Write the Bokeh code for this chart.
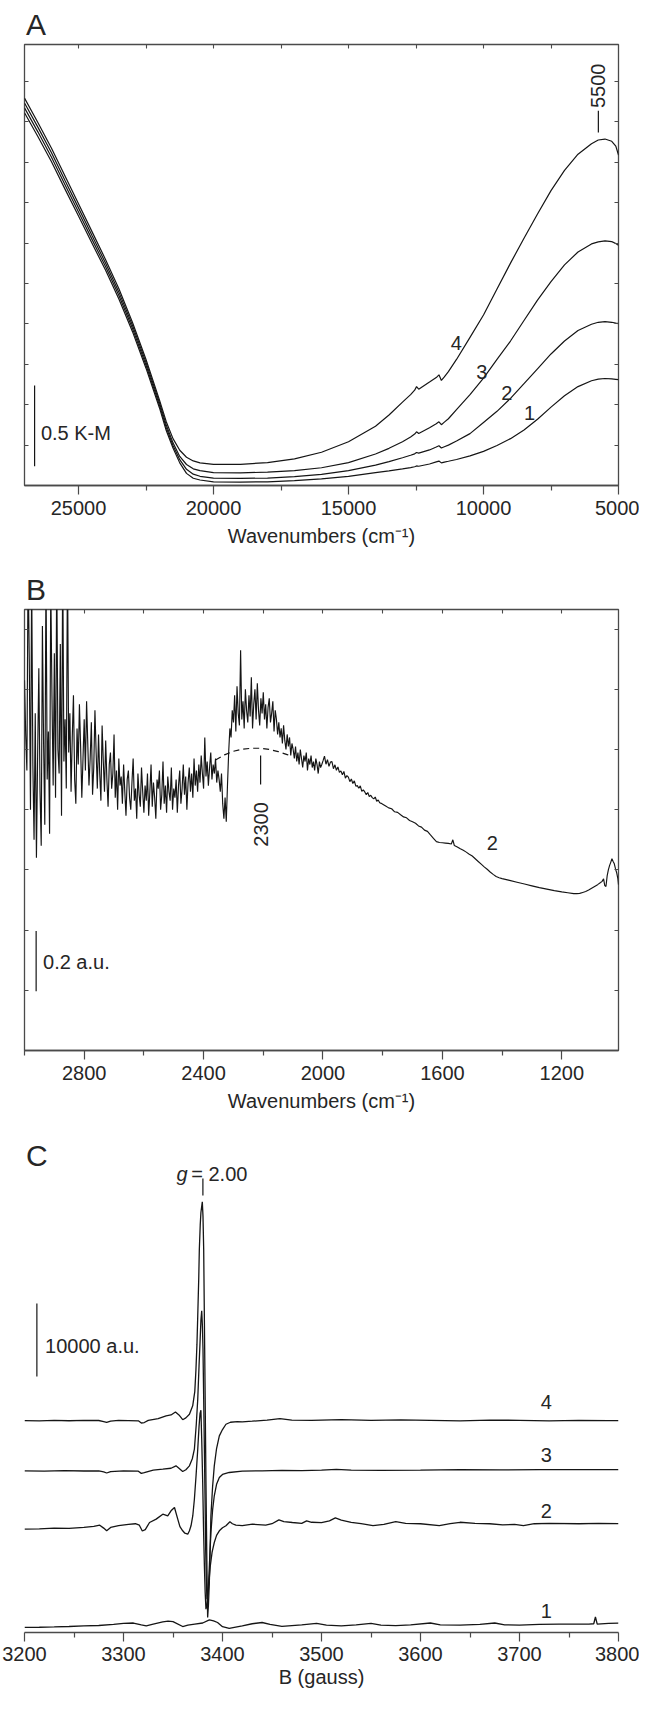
from math import pi
from bokeh.plotting import figure
from bokeh.models import Range1d, FixedTicker, LinearAxis, Label, Title, CustomJSTickFormatter
from bokeh.layouts import column
from bokeh.embed import file_html
from bokeh.resources import INLINE

# ---------------------------------------------------------------- data
# Panel A : DR UV-Vis-NIR (K-M units, arbitrary zero), wavenumbers in cm-1
A_WN = [27000, 26500, 26000, 25500, 25000, 24500, 24000, 23500, 23000, 22500,
        22000, 21750, 21500, 21250, 21000, 20750, 20500, 20000, 19000, 18000,
        17000, 16000, 15000, 14000, 13500, 13000, 12700, 12550, 12480, 12400,
        12000, 11750, 11650, 11560, 11450, 11300, 11000, 10500, 10000, 9500,
        9000, 8500, 8000, 7500, 7000, 6500, 6000, 5750, 5500, 5250,
        5100, 5000]
A_KM_4 = [2.397, 2.245, 2.087, 1.915, 1.743, 1.571, 1.399, 1.216, 1.009, 0.780,
          0.528, 0.395, 0.290, 0.218, 0.175, 0.152, 0.140, 0.131, 0.131, 0.142,
          0.165, 0.206, 0.271, 0.367, 0.436, 0.516, 0.562, 0.590, 0.612, 0.596,
          0.640, 0.668, 0.685, 0.650, 0.672, 0.705, 0.780, 0.917, 1.055, 1.216,
          1.376, 1.530, 1.680, 1.825, 1.950, 2.050, 2.115, 2.138, 2.144, 2.130,
          2.100, 2.045]
A_KM_3 = [2.367, 2.216, 2.059, 1.888, 1.718, 1.547, 1.377, 1.195, 0.990, 0.762,
          0.512, 0.375, 0.264, 0.180, 0.130, 0.103, 0.092, 0.080, 0.078, 0.083,
          0.092, 0.110, 0.142, 0.195, 0.230, 0.271, 0.300, 0.318, 0.332, 0.322,
          0.357, 0.382, 0.394, 0.376, 0.392, 0.413, 0.470, 0.562, 0.665, 0.780,
          0.894, 1.021, 1.147, 1.261, 1.365, 1.445, 1.495, 1.508, 1.514, 1.509,
          1.498, 1.486]
A_KM_2 = [2.337, 2.187, 2.031, 1.861, 1.693, 1.523, 1.355, 1.174, 0.971, 0.744,
          0.496, 0.358, 0.248, 0.160, 0.100, 0.070, 0.057, 0.046, 0.044, 0.046,
          0.055, 0.069, 0.092, 0.126, 0.148, 0.172, 0.187, 0.196, 0.204, 0.200,
          0.220, 0.238, 0.246, 0.232, 0.240, 0.250, 0.275, 0.321, 0.390, 0.459,
          0.539, 0.631, 0.722, 0.814, 0.894, 0.959, 0.998, 1.010, 1.014, 1.010,
          1.005, 1.002]
A_KM_1 = [2.307, 2.158, 2.003, 1.834, 1.668, 1.499, 1.333, 1.153, 0.952, 0.726,
          0.480, 0.340, 0.232, 0.140, 0.075, 0.045, 0.034, 0.023, 0.021, 0.023,
          0.030, 0.041, 0.057, 0.080, 0.091, 0.103, 0.111, 0.116, 0.121, 0.119,
          0.133, 0.146, 0.151, 0.140, 0.145, 0.150, 0.161, 0.183, 0.211, 0.248,
          0.290, 0.344, 0.410, 0.485, 0.555, 0.612, 0.648, 0.658, 0.662, 0.660,
          0.657, 0.655]
A_XTICKS = [25000, 20000, 15000, 10000, 5000]
A_XMINOR = [22500, 17500, 12500, 7500]
A_TOPTICKS = [25000, 22500, 20000, 17500, 15000, 12500, 10000, 7500]
A_YTICKS = [0.25, 0.5, 0.75, 1.0, 1.25, 1.5, 1.75, 2.0, 2.25, 2.5]

# Panel B : spectrum of sample 2 (a.u.), wavenumbers in cm-1
B_WN_NOISY = list(range(3000, 2000, -4))
B_VAL_NOISY = [
    1.23, 1.05, 0.93, 1.62, 1.30, 0.80, 1.58, 0.95, 0.70, 1.12,
    0.64, 0.98, 1.27, 0.86, 0.68, 1.41, 1.02, 0.75, 1.60, 0.90,
    1.06, 0.72, 1.55, 1.18, 0.88,
    1.32, 0.84, 1.61, 1.00, 0.92, 1.35, 0.78, 1.64, 0.96, 1.10, 0.87, 1.63,
    0.99, 1.12, 0.86, 1.04, 1.18, 0.90, 0.82, 1.07, 0.95, 1.15, 1.01, 0.84, 0.97, 1.10,
    0.93, 1.16, 1.02, 0.88, 0.97, 1.09, 0.85, 0.94, 1.13, 0.99, 0.87, 1.05, 0.92, 0.83, 1.08,
    0.96, 0.86, 1.03, 0.90, 0.81, 0.95, 0.99, 0.87, 0.92, 1.05, 0.84, 0.93, 0.80, 0.97, 0.88,
    0.91, 0.82, 0.95, 0.86, 0.78, 0.90, 0.93, 0.84, 0.80, 0.89,
    0.97, 0.83, 0.87, 0.77, 0.92, 0.85, 0.81, 0.94, 0.86, 0.79,
    0.88, 0.83, 0.92, 0.78, 0.86, 0.95, 0.81, 0.89, 0.84, 0.77,
    0.90, 0.87, 0.93, 0.80, 0.85, 0.96, 0.82, 0.88, 0.79, 0.91,
    0.86, 0.83, 0.94, 0.80, 0.87,
    0.84, 0.90, 0.79, 0.88, 0.93, 0.82, 0.87, 0.95, 0.85, 0.91,
    0.80, 0.89, 0.94, 0.86, 0.92, 0.84, 0.97, 0.88, 0.93, 0.86,
    0.95, 0.89, 0.98, 0.92, 0.87, 1.04, 0.91, 0.96, 0.88, 0.94,
    0.99, 0.90, 0.95, 0.92, 0.97, 0.89, 0.93,
    0.90, 0.86, 0.92, 0.82, 0.77, 0.84, 0.76, 0.88, 0.99, 1.07,
    1.04, 1.13, 1.09, 1.18, 1.06, 1.21, 1.12, 1.08, 1.33, 1.10, 1.16, 1.07, 1.20, 1.13,
    1.09, 1.18, 1.11, 1.24, 1.07, 1.15, 1.20, 1.10, 1.22, 1.13, 1.08, 1.17, 1.12, 1.19,
    1.10, 1.15, 1.07, 1.14, 1.17, 1.09, 1.12, 1.16, 1.06, 1.13, 1.10, 1.05,
    1.09, 1.04, 1.07, 1.02, 1.08, 1.03, 1.00, 1.05, 1.01, 1.04, 0.98, 1.02, 1.00,
    0.97, 1.01, 0.96, 0.99, 0.95, 1.00, 0.97, 0.94, 0.98, 0.96,
    0.99, 0.93, 0.97, 0.95, 0.98, 0.94, 0.96, 0.93, 0.97, 0.95,
    0.92, 0.96, 0.94, 0.95]
B_WN_TAIL = [2000, 1995, 1990, 1985, 1980, 1975, 1970, 1965, 1960, 1955,
             1950, 1945, 1940, 1935, 1930, 1925, 1920, 1915, 1910, 1905,
             1900, 1895, 1890, 1885, 1880, 1875, 1870, 1865, 1860, 1855,
             1850, 1845, 1840, 1835, 1830, 1825, 1820, 1815, 1810, 1805,
             1800, 1790, 1780, 1770, 1760, 1750, 1740, 1730, 1720, 1710,
             1700, 1690, 1680, 1670, 1660, 1650, 1640, 1630, 1620, 1610,
             1600, 1590, 1580, 1570, 1565, 1560, 1550, 1540, 1530, 1520,
             1510, 1500, 1490, 1480, 1470, 1460, 1450, 1440, 1430, 1420,
             1410, 1400, 1375, 1350, 1325, 1300, 1275, 1250, 1225, 1200,
             1180, 1160, 1150, 1140, 1130, 1120, 1110, 1100, 1090, 1080,
             1070, 1065, 1060, 1056, 1052, 1048, 1044, 1040, 1036, 1032,
             1028, 1024, 1020, 1016, 1012, 1010]
B_VAL_TAIL = [0.962, 0.978, 0.951, 0.966, 0.944, 0.958, 0.960, 0.936, 0.949, 0.931,
              0.942, 0.924, 0.929, 0.916, 0.927, 0.905, 0.913, 0.908, 0.893, 0.902,
              0.887, 0.896, 0.878, 0.880, 0.871, 0.879, 0.861, 0.866, 0.859, 0.850,
              0.857, 0.844, 0.848, 0.840, 0.836, 0.842, 0.828, 0.832, 0.823, 0.821,
              0.818, 0.812, 0.806, 0.803, 0.793, 0.791, 0.783, 0.776, 0.773, 0.764,
              0.760, 0.755, 0.746, 0.742, 0.732, 0.728, 0.716, 0.705, 0.694, 0.691,
              0.690, 0.689, 0.688, 0.686, 0.700, 0.681, 0.676, 0.670, 0.665, 0.659,
              0.652, 0.646, 0.637, 0.628, 0.619, 0.610, 0.602, 0.593, 0.585, 0.578,
              0.574, 0.571, 0.565, 0.559, 0.553, 0.547, 0.541, 0.536, 0.531, 0.527,
              0.524, 0.521, 0.521, 0.522, 0.525, 0.528, 0.533, 0.539, 0.545, 0.551,
              0.558, 0.562, 0.570, 0.548, 0.545, 0.580, 0.600, 0.614, 0.625, 0.637,
              0.628, 0.620, 0.603, 0.590, 0.570, 0.551]
B_DASH_WN = [2360, 2330, 2300, 2270, 2240, 2210, 2180, 2150, 2120, 2110]
B_DASH_VAL = [0.965, 0.982, 0.994, 1.001, 1.004, 1.004, 1.000, 0.993, 0.983, 0.979]
B_XTICKS = [2800, 2400, 2000, 1600, 1200]
B_XMINOR = [3000, 2600, 2200, 1800, 1400]
B_TOPTICKS = [2800, 2600, 2400, 2200, 2000, 1800, 1600, 1400, 1200]
B_YTICKS = [0.2, 0.4, 0.6, 0.8, 1.0, 1.2, 1.4]

# Panel C : EPR spectra (a.u., stacked as drawn), field in gauss
C4_G = [3200, 3215, 3230, 3245, 3260, 3275, 3280, 3283, 3287, 3295,
        3305, 3315, 3318, 3321, 3325, 3335, 3343, 3348, 3352.5, 3356,
        3359.8, 3363, 3366.6, 3369.9, 3372, 3373.2, 3374.2, 3375, 3376, 3376.6,
        3377.5, 3378.2, 3379.6, 3380.3, 3381, 3382, 3383.3, 3384.3, 3385, 3385.8,
        3386.7, 3388.3, 3390, 3391.7, 3394, 3396.8, 3400, 3403.5, 3408, 3415,
        3420, 3430, 3445, 3458, 3470, 3490, 3520, 3550, 3580, 3610,
        3640, 3670, 3700, 3730, 3760, 3790, 3800]
C4_V = [29020, 29000, 29060, 29010, 29050, 29040, 28900, 28780, 28950, 29060,
        29030, 29000, 28700, 28760, 29050, 29300, 29680, 29800, 30200, 29800,
        29150, 29400, 29900, 31050, 33000, 36070, 39500, 43380, 48500, 52500,
        55800, 57530, 59000, 57000, 52500, 38800, 20550, 8500, 2050, 3800,
        6850, 15990, 20000, 22830, 25200, 26940, 27800, 28530, 28800, 28880,
        28860, 28950, 29100, 29300, 29100, 29050, 29150, 29050, 29120, 29060,
        29000, 29100, 29060, 29000, 29050, 29030, 29030]
C3_G = [3200, 3220, 3240, 3260, 3275, 3280, 3283, 3287, 3300, 3315,
        3318, 3321, 3330, 3339.7, 3348, 3353, 3356, 3359.8, 3363, 3366.6,
        3369.5, 3371.6, 3373.5, 3375, 3376.3, 3377.3, 3378.2, 3379, 3379.7, 3380.3,
        3381, 3381.7, 3382.4, 3383, 3383.7, 3384.3, 3385.2, 3386, 3387.2, 3388.3,
        3390, 3391.7, 3394, 3396.8, 3400, 3406.8, 3420, 3440, 3460, 3480,
        3500, 3515, 3530, 3560, 3600, 3640, 3680, 3720, 3760, 3800]
C3_V = [22150, 22100, 22180, 22120, 22150, 22000, 21850, 22050, 22150, 22100,
        21800, 21900, 22250, 22370, 22500, 22830, 22500, 22050, 22300, 22830,
        23800, 25110, 28500, 31960, 36500, 39730, 42800, 44070, 42000, 38810,
        32000, 25110, 18000, 11410, 7000, 4560, 5300, 6850, 10500, 13700,
        16800, 18730, 20300, 21230, 21650, 21920, 22100, 22150, 22200, 22180,
        22250, 22350, 22250, 22220, 22250, 22300, 22280, 22320, 22300, 22320]
C2_G = [3200, 3215, 3230, 3245, 3260, 3270, 3276, 3280, 3283, 3287,
        3295, 3305, 3312, 3316, 3319, 3322, 3326.3, 3333, 3339.7, 3344.7,
        3348, 3351.5, 3354.8, 3357, 3359.8, 3362, 3364.9, 3366.5, 3368.2, 3370,
        3371.6, 3373.3, 3375, 3376.3, 3377.3, 3378.2, 3379, 3380, 3380.8, 3381.7,
        3382.5, 3383.3, 3384.3, 3385.3, 3386.5, 3387.7, 3389.5, 3391.7, 3394, 3396.8,
        3400, 3403.5, 3407.5, 3410, 3413.5, 3420, 3430.3, 3443.7, 3450, 3457,
        3462, 3470.6, 3480, 3485, 3490, 3500, 3508, 3514, 3520, 3530,
        3540, 3552, 3563, 3575, 3585, 3600, 3619, 3630, 3640, 3655,
        3670, 3683, 3695, 3704, 3715, 3730, 3760, 3780, 3800]
C2_V = [14150, 14200, 14300, 14250, 14400, 14550, 14700, 14300, 13950, 14400,
        14650, 14800, 14900, 14700, 13900, 14100, 15070, 15530, 16210, 15990,
        16670, 17120, 15530, 14500, 13930, 13600, 13470, 13900, 14620, 16000,
        18260, 21500, 25110, 28200, 30000, 30450, 26500, 20550, 14500, 9140,
        5500, 3190, 3800, 5020, 7200, 9140, 11000, 12330, 13300, 13930,
        14350, 14620, 15160, 14900, 14700, 14650, 14840, 14700, 14900, 15430,
        15200, 15070, 14950, 15300, 15100, 15050, 15300, 15700, 15400, 15100,
        14900, 14650, 14800, 15180, 14950, 14900, 14650, 14900, 15100, 14950,
        14900, 14750, 14800, 14650, 14900, 14950, 14900, 14950, 14920]
C1_G = [3200, 3215, 3230, 3245, 3260, 3275, 3290, 3300, 3310, 3318,
        3323, 3330, 3339.7, 3345, 3350, 3359.8, 3365, 3372, 3380, 3386.7,
        3391, 3395, 3400, 3406.8, 3412, 3420, 3430, 3440, 3448, 3460,
        3470, 3480, 3495, 3505, 3520, 3535, 3550, 3560, 3575, 3590,
        3610, 3620, 3640, 3660, 3675, 3685, 3700, 3720, 3740, 3760,
        3770, 3775, 3776.7, 3778.5, 3790, 3800]
C1_V = [700, 720, 760, 820, 900, 960, 1100, 1250, 1300, 1050,
        900, 1150, 1460, 1550, 1500, 820, 1000, 1140, 1300, 1740,
        1600, 1370, 800, 550, 700, 913, 1200, 1370, 1100, 850,
        950, 1050, 1250, 1000, 900, 1050, 1250, 1000, 950, 1050,
        1300, 1050, 1000, 1100, 1300, 1050, 1000, 1100, 1150, 1150,
        1150, 1200, 2120, 1150, 1250, 1290]
C_XTICKS = [3200, 3300, 3400, 3500, 3600, 3700, 3800]
C_XMINOR = [3250, 3350, 3450, 3550, 3650, 3750]

# ---------------------------------------------------------------- annotations (data coords)
A_CURVE_LABELS = [("4", 11010, 0.883), ("3", 10059, 0.700), ("2", 9139, 0.573), ("1", 8296, 0.447)]
A_PEAK = (5746, 2.184, 2.319, 2.473)          # x, marker y0, y1, text centre
A_BAR = (26626, 0.119, 0.619, 26393, 0.322)   # bar x, y0, y1, text x, text y
B_MARK = (2209, 0.884, 0.980, 0.751)
B_LABEL = ("2", 1433, 0.688)
B_BAR = (2961, 0.197, 0.397, 2938, 0.294)
C_CURVE_LABELS = [("4", 3727, 31507), ("3", 3727, 24247), ("2", 3727, 16712), ("1", 3727, 2877)]
C_G = (3353.5, 3368.4, 62740)                 # "g" x, "= 2.00" x, baseline
C_GMARK = (3380.2, 59860, 62190)
C_BAR = (3212.5, 35070, 45070, 3220.8, 39180)

assert len(B_WN_NOISY) == len(B_VAL_NOISY)
assert len(B_WN_TAIL) == len(B_VAL_TAIL)

# ---------------------------------------------------------------- style
FONT = "Liberation Sans"
TXT = "#262626"
AXC = "#4a4a4a"
LNC = "#151515"
W = 639


def blank():
    return CustomJSTickFormatter(code="return ''")


def make_fig(height, xr, yr, btop, bbot):
    p = figure(width=W, height=height, x_range=xr, y_range=yr, title=None,
               output_backend="svg", toolbar_location=None,
               min_border_left=24, min_border_right=21,
               min_border_top=btop, min_border_bottom=bbot)
    p.xgrid.visible = False
    p.ygrid.visible = False
    p.background_fill_color = "white"
    p.border_fill_color = "white"
    return p


def panel_title(p, s):
    p.title = Title(text=s, align="left", offset=1.5, standoff=7,
                    vertical_align="bottom", text_font=FONT, text_font_size="30px",
                    text_font_style="normal", text_color=TXT)


def style_bottom(ax, majors, minors, label, lab_standoff, tick_standoff=6):
    ax.ticker = FixedTicker(ticks=majors, minor_ticks=minors)
    ax.axis_label = label
    ax.axis_label_text_font = FONT
    ax.axis_label_text_font_size = "20px"
    ax.axis_label_text_font_style = "normal"
    ax.axis_label_text_color = TXT
    ax.axis_label_standoff = lab_standoff
    ax.major_label_text_font = FONT
    ax.major_label_text_font_size = "20px"
    ax.major_label_text_color = TXT
    ax.major_label_standoff = tick_standoff
    ax.major_tick_in = 0
    ax.major_tick_out = 9
    ax.minor_tick_in = 0
    ax.minor_tick_out = 5
    ax.axis_line_color = AXC
    ax.axis_line_width = 1.3
    ax.major_tick_line_color = AXC
    ax.minor_tick_line_color = AXC
    ax.major_tick_line_width = 1.2
    ax.minor_tick_line_width = 1.2


def style_inner(ax, ticks):
    ax.ticker = FixedTicker(ticks=ticks, minor_ticks=[])
    ax.formatter = blank()
    ax.major_label_text_font_size = "0px"
    ax.major_label_standoff = 0
    ax.major_tick_in = 4
    ax.major_tick_out = 0
    ax.minor_tick_in = 0
    ax.minor_tick_out = 0
    ax.axis_line_color = None
    ax.major_tick_line_color = AXC
    ax.major_tick_line_width = 1.1


def framed(p, top_ticks, y_ticks):
    p.outline_line_color = AXC
    p.outline_line_width = 1.3
    style_inner(p.yaxis[0], y_ticks)
    top = LinearAxis()
    style_inner(top, top_ticks)
    p.add_layout(top, "above")
    right = LinearAxis()
    style_inner(right, y_ticks)
    p.add_layout(right, "right")


def text(p, x, y, s, size="20px", align="center", baseline="middle", angle=0.0,
         style="normal", units="data"):
    p.add_layout(Label(x=x, y=y, text=s, x_units=units, y_units=units,
                       text_font=FONT, text_font_size=size, text_color=TXT,
                       text_align=align, text_baseline=baseline, angle=angle,
                       text_font_style=style))


def vbar(p, x, y0, y1):
    p.segment(x0=[x], y0=[y0], x1=[x], y1=[y1], line_color=LNC, line_width=1.2)


# ---------------------------------------------------------------- panel A
pA = make_fig(565, Range1d(27000, 5000), Range1d(0, 2.729), 44, 80)
panel_title(pA, "A")
style_bottom(pA.xaxis[0], A_XTICKS, A_XMINOR, "Wavenumbers (cm\u207b\u00b9)", 7)
framed(pA, A_TOPTICKS, A_YTICKS)
for ys in (A_KM_1, A_KM_2, A_KM_3, A_KM_4):
    pA.line(A_WN, ys, line_color=LNC, line_width=1.2)
for s, x, y in A_CURVE_LABELS:
    text(pA, x, y, s)
vbar(pA, A_PEAK[0], A_PEAK[1], A_PEAK[2])
text(pA, A_PEAK[0], A_PEAK[3], "5500", angle=pi / 2)
vbar(pA, A_BAR[0], A_BAR[1], A_BAR[2])
text(pA, A_BAR[3], A_BAR[4], "0.5 K-M", align="left")

# ---------------------------------------------------------------- panel B
pB = make_fig(558, Range1d(3000, 1010), Range1d(0, 1.465), 44, 73)
panel_title(pB, "B")
style_bottom(pB.xaxis[0], B_XTICKS, B_XMINOR, "Wavenumbers (cm\u207b\u00b9)", 7)
framed(pB, B_TOPTICKS, B_YTICKS)
pB.line(B_DASH_WN, B_DASH_VAL, line_color=LNC, line_width=1.2, line_dash="6 4")
pB.line(B_WN_NOISY + B_WN_TAIL, B_VAL_NOISY + B_VAL_TAIL, line_color=LNC, line_width=1.15)
vbar(pB, B_MARK[0], B_MARK[1], B_MARK[2])
text(pB, B_MARK[0], B_MARK[3], "2300", angle=pi / 2)
text(pB, B_LABEL[1], B_LABEL[2], B_LABEL[0])
vbar(pB, B_BAR[0], B_BAR[1], B_BAR[2])
text(pB, B_BAR[3], B_BAR[4], "0.2 a.u.", align="left")

# ---------------------------------------------------------------- panel C
pC = make_fig(571, Range1d(3200, 3800), Range1d(0, 68356), 10, 62)
style_bottom(pC.xaxis[0], C_XTICKS, C_XMINOR, "B (gauss)", 2, 5)
pC.yaxis.visible = False
pC.outline_line_color = None
for gs, vs in ((C1_G, C1_V), (C2_G, C2_V), (C3_G, C3_V), (C4_G, C4_V)):
    pC.line(gs, vs, line_color=LNC, line_width=1.3)
for s, x, y in C_CURVE_LABELS:
    text(pC, x, y, s)
text(pC, C_G[0], C_G[2], "g", align="left", baseline="alphabetic", style="italic")
text(pC, C_G[1], C_G[2], "= 2.00", align="left", baseline="alphabetic")
vbar(pC, C_GMARK[0], C_GMARK[1], C_GMARK[2])
vbar(pC, C_BAR[0], C_BAR[1], C_BAR[2])
text(pC, C_BAR[3], C_BAR[4], "10000 a.u.", align="left")
text(pC, 1.5, 477, "C", size="30px", align="left", baseline="alphabetic", units="screen")

page = column(pA, pB, pC, spacing=0)
open("out.html", "w").write(file_html(page, INLINE))
